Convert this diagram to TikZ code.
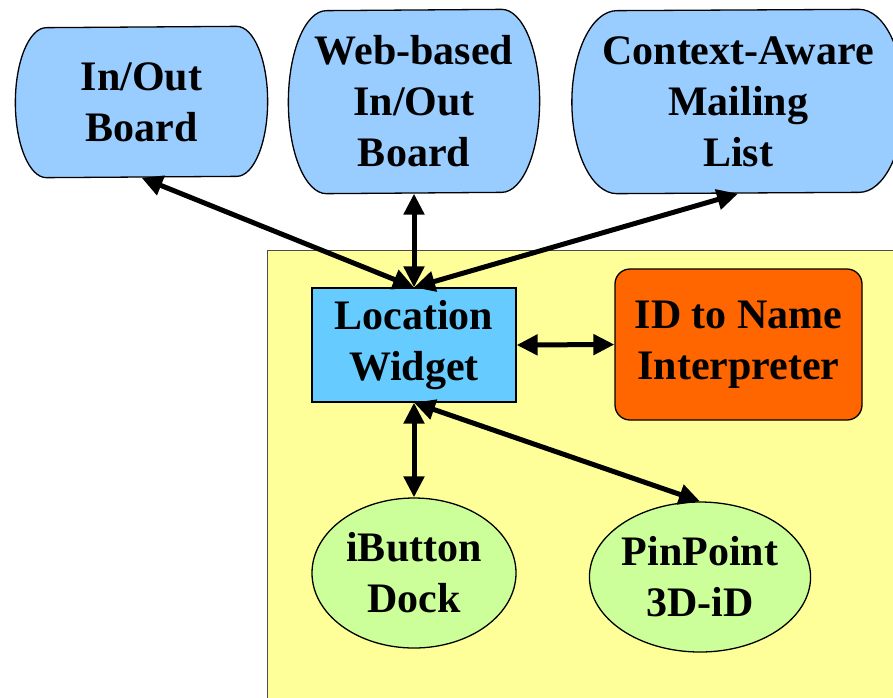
\documentclass[tikz,border=0pt]{standalone}
\usepackage{fontspec}
\setmainfont{Liberation Serif}
\usepackage{xcolor}
\usetikzlibrary{shapes.geometric, arrows.meta, calc, backgrounds}

\definecolor{appblue}{HTML}{99CCFF}
\definecolor{widgetblue}{HTML}{66CCFF}
\definecolor{interporange}{HTML}{FF6600}
\definecolor{sensorgreen}{HTML}{CCFF99}
\definecolor{serveryellow}{HTML}{FFFF99}

\begin{document}
\begin{tikzpicture}[x=1pt,y=-1pt,
  every node/.style={font=\fontsize{42}{51}\selectfont\bfseries, align=center, inner sep=0pt, line width=1.3pt},
  app/.style={rectangle},
  link/.style={line width=5pt, {Triangle[length=21pt,width=20pt]}-{Triangle[length=21pt,width=20pt]}}]
\useasboundingbox (0,0) rectangle (893,697);
% Applications
\node[app, minimum width=251, minimum height=150] (inout) at (141.5,102) {In/Out\\Board};
\node[app, minimum width=250, minimum height=183] (webinout) at (414,101.5) {Web-based\\In/Out\\Board};
\node[app, minimum width=331, minimum height=183] (mailing) at (738,101.5) {Context-Aware\\Mailing\\List};
% Widget and interpreter
\node[draw, fill=widgetblue, minimum width=204, minimum height=114] (locwidget) at (414,345) {Location\\Widget};
\node[draw, fill=interporange, rounded corners=15, minimum width=247, minimum height=151] (idname) at (738.5,344.5) {ID to Name\\Interpreter};
% Sensors
\node[draw, fill=sensorgreen, ellipse, minimum width=204, minimum height=150] (ibutton) at (414,573) {iButton\\Dock};
\node[draw, fill=sensorgreen, ellipse, minimum width=217, minimum height=150] (pinpoint) at (700,577) {PinPoint\\3D-iD};
\begin{scope}[on background layer]
% Infrastructure area
\draw[fill=serveryellow, draw=black!70, line width=1pt] (267,250) rectangle (905,710);
% Application outlines with elliptic ends
\foreach \n/\rx/\ry in {inout/31/75, webinout/38/91.5, mailing/45/91.5}
  \draw[fill=appblue, line width=1.3pt] ($(\n.north east)+(-\rx,0)$)
    arc[start angle=-90, end angle=90, x radius=\rx, y radius=\ry]
    -- ($(\n.south west)+(\rx,0)$)
    arc[start angle=90, end angle=270, x radius=\rx, y radius=\ry] -- cycle;
\end{scope}
% Links
\draw[link] (inout.south) -- (locwidget.north);
\draw[link] (webinout.south) -- (locwidget.north);
\draw[link] (mailing.south) -- (locwidget.north);
\draw[link] (locwidget.east) -- (idname.west);
\draw[link] (locwidget.south) -- (ibutton.north);
\draw[link] (locwidget.south) -- (pinpoint.north);
\end{tikzpicture}
\end{document}
